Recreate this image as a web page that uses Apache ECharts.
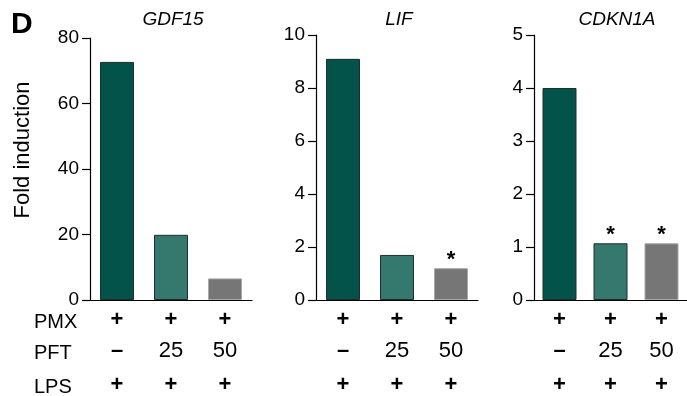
<!DOCTYPE html>
<html><head><meta charset="utf-8">
<script src="https://cdn.jsdelivr.net/npm/echarts@6/dist/echarts.min.js"></script>
<style>html,body{margin:0;padding:0;background:#fff}#c{width:687px;height:396px}</style>
</head><body><div id="c"></div>
<script>
// ---- data ----
const genes = ['GDF15', 'LIF', 'CDKN1A'];
const pmx = ['+', '+', '+'];
const pft = ['–', '25', '50'];
const lps = ['+', '+', '+'];
const rowNames = ['PMX', 'PFT', 'LPS'];
const gdf15 = [72.7, 19.9, 6.6];
const lif = [9.1, 1.7, 1.2];
const cdkn1a = [4.0, 1.07, 1.07];
const gdf15Sig = ['', '', ''];
const lifSig = ['', '', '*'];
const cdkn1aSig = ['', '*', '*'];
const yMax = [80, 10, 5];
const yStep = [20, 2, 1];

// ---- styling ----
const FONT = "'Liberation Sans', Arial, sans-serif";
const barColors = ['#04534a', '#35786d', '#767676'];
const barBorders = ['#1e2f2b', '#1e2f2b', '#a8a8a8'];
const panels = [
  {left: 90, top: 38},
  {left: 316, top: 35},
  {left: 534, top: 35}
];
const PW = 162, ZERO = 302;
const values = [gdf15, lif, cdkn1a];
const sigs = [gdf15Sig, lifSig, cdkn1aSig];
const sym = (s) => (s === '+' || s === '–') ? 's' : 'n';
const cats = pmx.map((p, i) =>
  '{' + sym(p) + '1|' + p + '}\n{' + sym(pft[i]) + '2|' + pft[i] + '}\n{' + sym(lps[i]) + '3|' + lps[i] + '}');
const lh = [30, 31, 38];
const rich = {};
[1, 2, 3].forEach((r) => {
  rich['s' + r] = {fontSize: 22, fontWeight: 'bold', fontFamily: FONT, color: '#000', lineHeight: lh[r - 1]};
  rich['n' + r] = {fontSize: 22, fontFamily: FONT, color: '#000', lineHeight: lh[r - 1]};
});

const grid = [], xAxis = [], yAxis = [], series = [], graphic = [];
panels.forEach((p, k) => {
  grid.push({left: p.left, top: p.top, width: PW, height: ZERO - p.top});
  xAxis.push({
    type: 'category', gridIndex: k, data: cats,
    axisLine: {lineStyle: {color: '#000', width: 1.2}},
    axisTick: {show: false},
    axisLabel: {color: '#000', fontSize: 22, fontFamily: FONT, margin: 5, interval: 0, rich}
  });
  yAxis.push({
    type: 'value', gridIndex: k, min: 0, max: yMax[k], interval: yStep[k],
    splitLine: {show: false},
    axisLine: {show: true, lineStyle: {color: '#000', width: 1.2}},
    axisTick: {show: true, length: 8, lineStyle: {color: '#000', width: 1.2}},
    axisLabel: {color: '#000', fontSize: 19, fontFamily: FONT, margin: 11}
  });
  series.push({
    type: 'bar', xAxisIndex: k, yAxisIndex: k, barWidth: 34,
    data: values[k].map((v, i) => ({
      value: v,
      itemStyle: {color: barColors[i], borderColor: barBorders[i], borderWidth: 1}
    })),
    label: {
      show: true, position: 'top', distance: -3,
      formatter: (d) => sigs[k][d.dataIndex],
      color: '#000', fontSize: 22, fontWeight: 'bold', fontFamily: FONT
    },
    silent: true
  });
  graphic.push({
    type: 'text', x: p.left + PW / 2 + 2, y: 20,
    style: {text: genes[k], fill: '#000', font: 'italic 19px ' + FONT, align: 'center', verticalAlign: 'middle'}
  });
});
graphic.push({
  type: 'text', x: 11, y: 10,
  style: {text: 'D', fill: '#000', font: 'bold 30px ' + FONT, align: 'left', verticalAlign: 'top'}
});
graphic.push({
  type: 'text', x: 23, y: 150, rotation: Math.PI / 2,
  style: {text: 'Fold induction', fill: '#000', font: '22px ' + FONT, align: 'center', verticalAlign: 'middle'}
});
const rowY = [322, 353, 387];
rowNames.forEach((r, i) => {
  graphic.push({
    type: 'text', x: 34, y: rowY[i],
    style: {text: r, fill: '#000', font: '20px ' + FONT, align: 'left', verticalAlign: 'middle'}
  });
});

const chart = echarts.init(document.getElementById('c'), null, {renderer: 'canvas'});
chart.setOption({animation: false, grid, xAxis, yAxis, series, graphic});
</script></body></html>
